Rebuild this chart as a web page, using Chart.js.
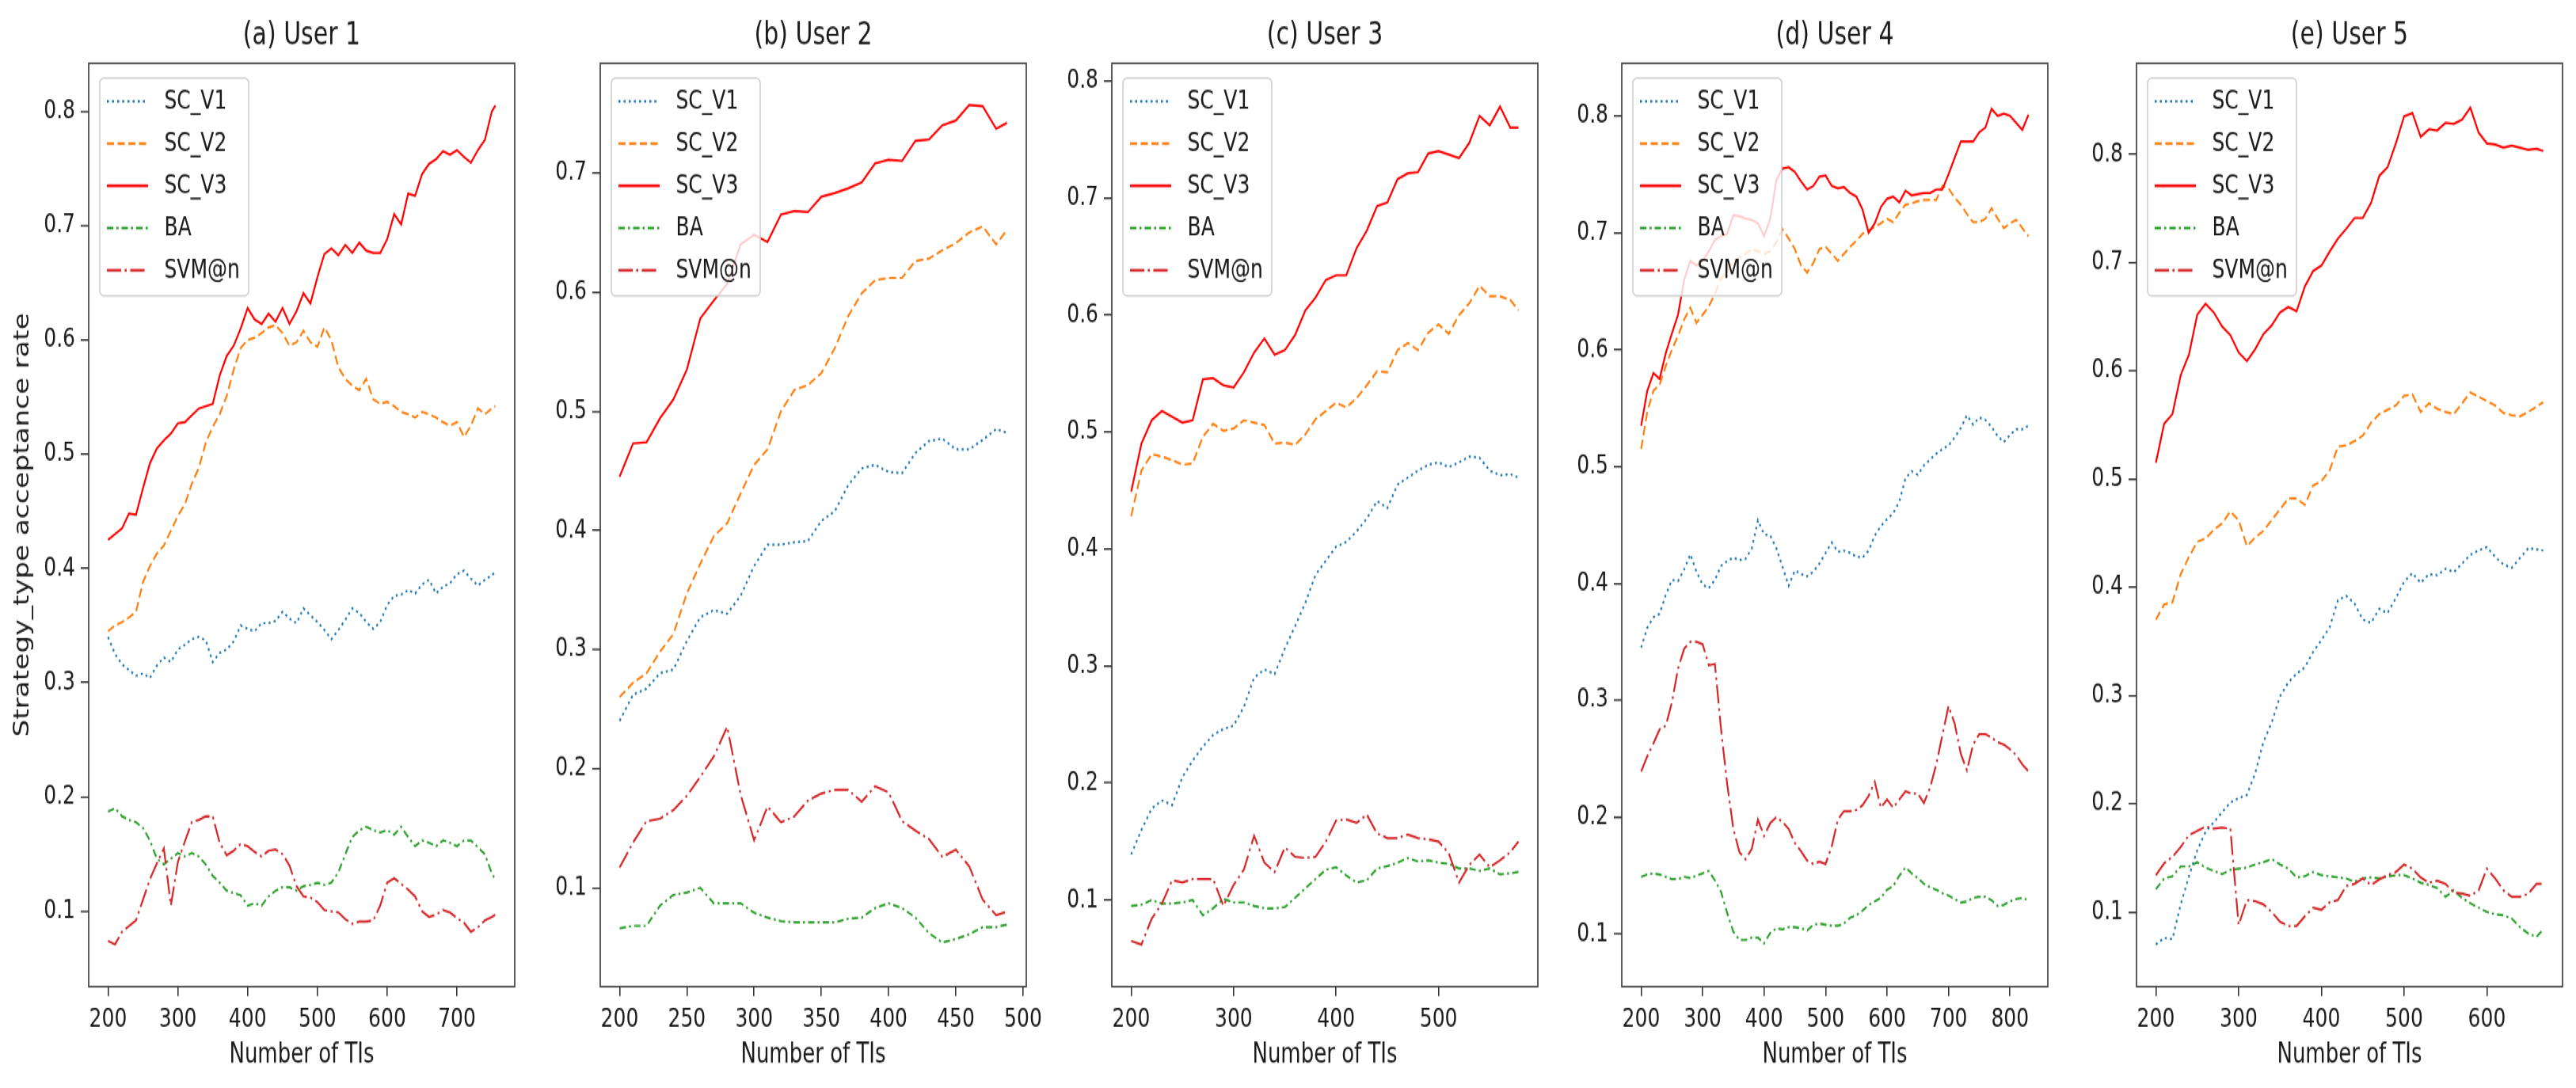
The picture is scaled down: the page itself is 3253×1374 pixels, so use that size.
<!DOCTYPE html>
<html>
<head>
<meta charset="utf-8">
<title>Strategy_type acceptance rate</title>
<script src="https://cdn.jsdelivr.net/npm/chart.js@4.4.1/dist/chart.umd.min.js"></script>
<style>
  html, body { margin: 0; padding: 0; background: #fff; }
  #page { position: relative; width: 3253px; height: 1374px; overflow: hidden; }
  #stage { position: absolute; left: 0; top: 0; width: 3253px; height: 1030px; transform: scaleY(1.33398); transform-origin: 0 0; }
  #stage canvas { position: absolute; top: 0; }
</style>
</head>
<body>
<div id="page"><div id="stage"></div></div>
<script>
// ---- data: Number of TIs (x) and acceptance rates per user ----
const xA = [200,210,220,230,240,250,260,270,280,290,300,310,320,330,340,350,360,370,380,390,400,410,420,430,440,450,460,470,480,490,500,510,520,530,540,550,560,570,580,590,600,610,620,630,640,650,660,670,680,690,700,710,720,730,740,750,755];
const v1A = [0.340,0.325,0.316,0.311,0.306,0.308,0.304,0.315,0.322,0.318,
  0.329,0.333,0.338,0.340,0.337,0.318,0.326,0.329,0.336,0.350,
  0.347,0.345,0.352,0.352,0.354,0.362,0.356,0.352,0.365,0.359,
  0.353,0.346,0.338,0.346,0.355,0.365,0.361,0.353,0.347,0.353,
  0.368,0.376,0.377,0.381,0.378,0.386,0.390,0.378,0.384,0.387,
  0.395,0.398,0.391,0.385,0.390,0.394,0.397];
const v2A = [0.345,0.350,0.353,0.357,0.362,0.388,0.402,0.413,0.420,0.433,
  0.446,0.456,0.474,0.488,0.510,0.524,0.535,0.551,0.574,0.593,
  0.600,0.602,0.606,0.611,0.613,0.606,0.595,0.598,0.608,0.598,
  0.594,0.611,0.600,0.576,0.566,0.560,0.556,0.566,0.548,0.544,
  0.546,0.542,0.537,0.535,0.532,0.537,0.535,0.532,0.528,0.525,
  0.528,0.515,0.525,0.540,0.535,0.540,0.542];
const v3A = [0.425,0.430,0.435,0.448,0.447,0.470,0.492,0.505,0.512,0.518,
  0.527,0.528,0.534,0.540,0.542,0.544,0.569,0.586,0.595,0.610,
  0.628,0.618,0.614,0.623,0.616,0.628,0.614,0.625,0.641,0.632,
  0.655,0.675,0.680,0.674,0.683,0.676,0.685,0.678,0.676,0.676,
  0.688,0.710,0.701,0.728,0.726,0.745,0.754,0.758,0.765,0.762,
  0.766,0.760,0.755,0.766,0.775,0.800,0.805];
const baA = [0.187,0.190,0.183,0.180,0.178,0.173,0.162,0.146,0.141,0.146,
  0.151,0.148,0.151,0.148,0.141,0.131,0.125,0.118,0.116,0.114,
  0.105,0.107,0.105,0.113,0.118,0.121,0.121,0.118,0.122,0.123,
  0.125,0.123,0.125,0.134,0.150,0.165,0.171,0.174,0.171,0.169,
  0.171,0.167,0.174,0.165,0.157,0.162,0.160,0.157,0.162,0.160,
  0.157,0.162,0.162,0.156,0.150,0.133,0.128];
const svmA = [0.074,0.071,0.082,0.087,0.092,0.110,0.128,0.142,0.155,0.105,
  0.143,0.161,0.178,0.180,0.183,0.183,0.160,0.149,0.153,0.159,
  0.157,0.152,0.148,0.153,0.154,0.150,0.140,0.122,0.113,0.112,
  0.108,0.101,0.100,0.099,0.093,0.089,0.091,0.091,0.092,0.105,
  0.125,0.129,0.124,0.119,0.113,0.100,0.095,0.097,0.101,0.099,
  0.094,0.090,0.082,0.086,0.092,0.095,0.097];

const xB = [200,210,220,230,240,250,260,270,280,290,300,310,320,330,340,350,360,370,380,390,400,410,420,430,440,450,460,470,480,488];
const v1B = [0.240,0.262,0.267,0.280,0.283,0.307,0.327,0.333,0.330,0.345,
  0.370,0.388,0.388,0.390,0.391,0.408,0.416,0.438,0.452,0.455,
  0.449,0.448,0.465,0.475,0.477,0.468,0.468,0.476,0.485,0.482];
const v2B = [0.260,0.272,0.280,0.298,0.313,0.347,0.372,0.395,0.406,0.431,
  0.455,0.468,0.500,0.518,0.522,0.532,0.553,0.580,0.599,0.610,
  0.612,0.612,0.626,0.628,0.635,0.641,0.650,0.655,0.640,0.652];
const v3B = [0.445,0.473,0.474,0.494,0.510,0.535,0.578,0.593,0.607,0.640,
  0.648,0.642,0.665,0.668,0.667,0.680,0.683,0.687,0.692,0.708,
  0.711,0.710,0.727,0.728,0.740,0.744,0.757,0.756,0.737,0.742];
const baB = [0.066,0.068,0.068,0.085,0.094,0.096,0.100,0.087,0.087,0.087,
  0.079,0.075,0.072,0.071,0.071,0.071,0.071,0.074,0.075,0.083,
  0.087,0.083,0.075,0.062,0.054,0.057,0.061,0.067,0.067,0.069];
const svmB = [0.117,0.138,0.156,0.158,0.165,0.177,0.193,0.210,0.235,0.178,
  0.140,0.168,0.155,0.160,0.173,0.179,0.182,0.182,0.172,0.185,
  0.180,0.156,0.148,0.141,0.126,0.132,0.118,0.090,0.077,0.080];

const xC = [200,210,220,230,240,250,260,270,280,290,300,310,320,330,340,350,360,370,380,390,400,410,420,430,440,450,460,470,480,490,500,510,520,530,540,550,560,570,578];
const v1C = [0.139,0.160,0.178,0.185,0.181,0.205,0.219,0.231,0.241,0.246,
  0.249,0.265,0.290,0.297,0.293,0.315,0.334,0.354,0.378,0.390,
  0.402,0.406,0.415,0.426,0.441,0.435,0.455,0.461,0.467,0.472,
  0.474,0.470,0.474,0.479,0.478,0.467,0.463,0.464,0.461];
const v2C = [0.428,0.467,0.481,0.479,0.476,0.472,0.473,0.496,0.507,0.501,
  0.503,0.510,0.508,0.506,0.490,0.491,0.489,0.498,0.511,0.518,
  0.525,0.521,0.529,0.540,0.552,0.551,0.570,0.576,0.570,0.585,
  0.592,0.584,0.600,0.610,0.625,0.616,0.616,0.613,0.604];
const v3C = [0.449,0.490,0.510,0.518,0.513,0.508,0.510,0.545,0.546,0.540,
  0.538,0.551,0.568,0.580,0.566,0.570,0.583,0.604,0.615,0.630,
  0.634,0.634,0.657,0.672,0.693,0.696,0.716,0.721,0.722,0.738,
  0.740,0.737,0.734,0.747,0.770,0.762,0.778,0.760,0.760];
const baC = [0.095,0.096,0.100,0.097,0.097,0.098,0.100,0.087,0.093,0.101,
  0.098,0.098,0.095,0.093,0.093,0.094,0.102,0.110,0.118,0.126,
  0.128,0.121,0.115,0.117,0.127,0.129,0.132,0.136,0.133,0.134,
  0.132,0.131,0.127,0.127,0.125,0.127,0.122,0.123,0.124];
const svmC = [0.065,0.062,0.084,0.097,0.117,0.115,0.118,0.118,0.118,0.095,
  0.113,0.126,0.155,0.132,0.124,0.145,0.137,0.136,0.137,0.150,
  0.168,0.169,0.166,0.173,0.157,0.153,0.153,0.156,0.153,0.152,
  0.150,0.140,0.115,0.130,0.139,0.128,0.134,0.141,0.150];

const xD = [200,210,220,230,240,250,260,270,280,290,300,310,320,330,340,350,360,370,380,390,400,410,420,430,440,450,460,470,480,490,500,510,520,530,540,550,560,570,580,590,600,610,620,630,640,650,660,670,680,690,700,710,720,730,740,750,760,770,780,790,800,810,820,830];
const v1D = [0.345,0.362,0.371,0.374,0.390,0.403,0.402,0.412,0.425,0.410,
  0.399,0.396,0.403,0.415,0.419,0.422,0.420,0.421,0.430,0.454,
  0.442,0.441,0.430,0.414,0.398,0.411,0.408,0.406,0.410,0.417,
  0.426,0.435,0.427,0.428,0.426,0.423,0.422,0.428,0.441,0.449,
  0.455,0.460,0.470,0.490,0.496,0.493,0.501,0.506,0.511,0.515,
  0.518,0.525,0.533,0.544,0.536,0.542,0.540,0.534,0.526,0.521,
  0.527,0.532,0.532,0.535];
const v2D = [0.515,0.547,0.565,0.570,0.586,0.600,0.612,0.626,0.636,0.623,
  0.630,0.637,0.648,0.661,0.668,0.675,0.679,0.682,0.686,0.684,
  0.682,0.684,0.692,0.703,0.695,0.686,0.672,0.666,0.674,0.686,
  0.688,0.682,0.676,0.682,0.688,0.693,0.699,0.702,0.705,0.708,
  0.712,0.709,0.717,0.724,0.725,0.727,0.728,0.728,0.728,0.740,
  0.738,0.730,0.724,0.716,0.709,0.709,0.712,0.721,0.712,0.704,
  0.708,0.711,0.704,0.697];
const v3D = [0.535,0.565,0.580,0.575,0.597,0.614,0.630,0.660,0.676,0.672,
  0.676,0.684,0.694,0.697,0.699,0.715,0.714,0.712,0.711,0.708,
  0.697,0.712,0.745,0.755,0.756,0.752,0.744,0.737,0.740,0.748,
  0.749,0.740,0.738,0.739,0.734,0.731,0.720,0.700,0.708,0.722,
  0.729,0.731,0.726,0.736,0.732,0.733,0.734,0.734,0.737,0.737,
  0.750,0.764,0.778,0.778,0.778,0.786,0.790,0.806,0.800,0.802,
  0.800,0.794,0.788,0.801];
const baD = [0.149,0.151,0.152,0.151,0.149,0.147,0.147,0.149,0.148,0.150,
  0.152,0.154,0.146,0.136,0.118,0.102,0.095,0.095,0.097,0.097,
  0.092,0.101,0.105,0.104,0.106,0.106,0.105,0.103,0.108,0.109,
  0.108,0.107,0.107,0.109,0.114,0.116,0.120,0.125,0.128,0.131,
  0.138,0.141,0.150,0.157,0.152,0.148,0.143,0.140,0.138,0.135,
  0.133,0.130,0.127,0.128,0.131,0.132,0.132,0.129,0.124,0.125,
  0.128,0.130,0.131,0.129];
const svmD = [0.239,0.252,0.263,0.275,0.278,0.298,0.327,0.344,0.350,0.350,
  0.348,0.330,0.331,0.275,0.228,0.190,0.170,0.164,0.173,0.198,
  0.184,0.195,0.200,0.196,0.190,0.178,0.171,0.163,0.160,0.162,
  0.160,0.175,0.198,0.205,0.205,0.206,0.210,0.218,0.230,0.208,
  0.215,0.208,0.215,0.222,0.220,0.220,0.212,0.225,0.245,0.270,
  0.295,0.280,0.254,0.240,0.262,0.271,0.271,0.268,0.264,0.262,
  0.258,0.253,0.245,0.239];

const xE = [200,210,220,230,240,250,260,270,280,290,300,310,320,330,340,350,360,370,380,390,400,410,420,430,440,450,460,470,480,490,500,510,520,530,540,550,560,570,580,590,600,610,620,630,640,650,660,668];
const v1E = [0.070,0.076,0.075,0.107,0.133,0.157,0.174,0.183,0.192,0.201,
  0.205,0.208,0.228,0.257,0.275,0.299,0.312,0.320,0.326,0.340,
  0.351,0.363,0.388,0.392,0.385,0.370,0.367,0.380,0.376,0.390,
  0.405,0.413,0.404,0.412,0.411,0.417,0.414,0.422,0.430,0.434,
  0.437,0.428,0.421,0.418,0.427,0.436,0.435,0.434];
const v2E = [0.370,0.384,0.386,0.412,0.428,0.442,0.445,0.453,0.459,0.470,
  0.462,0.438,0.446,0.452,0.462,0.472,0.482,0.482,0.476,0.494,
  0.498,0.508,0.530,0.531,0.535,0.540,0.552,0.560,0.564,0.568,
  0.577,0.578,0.562,0.570,0.565,0.562,0.560,0.570,0.580,0.576,
  0.572,0.568,0.561,0.559,0.558,0.562,0.567,0.571];
const v3E = [0.515,0.551,0.560,0.596,0.615,0.652,0.662,0.654,0.641,0.633,
  0.617,0.609,0.620,0.634,0.642,0.654,0.659,0.655,0.678,0.692,
  0.697,0.710,0.722,0.731,0.741,0.741,0.755,0.780,0.788,0.810,
  0.835,0.838,0.816,0.823,0.822,0.829,0.828,0.832,0.843,0.820,
  0.810,0.809,0.806,0.808,0.806,0.804,0.805,0.803];
const baE = [0.121,0.131,0.133,0.142,0.142,0.146,0.141,0.138,0.135,0.139,
  0.140,0.141,0.144,0.146,0.149,0.144,0.140,0.132,0.133,0.137,
  0.134,0.133,0.132,0.131,0.128,0.131,0.132,0.131,0.133,0.134,
  0.134,0.131,0.127,0.125,0.122,0.114,0.120,0.113,0.108,0.104,
  0.100,0.098,0.097,0.094,0.086,0.080,0.077,0.084];
const svmE = [0.134,0.145,0.151,0.160,0.171,0.175,0.179,0.177,0.178,0.177,
  0.088,0.111,0.110,0.107,0.100,0.091,0.087,0.087,0.096,0.104,
  0.102,0.109,0.111,0.124,0.126,0.131,0.125,0.130,0.134,0.137,
  0.144,0.140,0.132,0.127,0.129,0.126,0.118,0.117,0.115,0.120,
  0.140,0.131,0.120,0.114,0.114,0.117,0.126,0.126];

// tick labels
const xTicksA = [200,300,400,500,600,700];
const xTicksB = [200,250,300,350,400,450,500];
const xTicksC = [200,300,400,500];
const xTicksD = [200,300,400,500,600,700,800];
const xTicksE = [200,300,400,500,600];
const yTicks8 = [0.1,0.2,0.3,0.4,0.5,0.6,0.7,0.8];
const yTicks7 = [0.1,0.2,0.3,0.4,0.5,0.6,0.7];

const seriesNames = ['SC_V1', 'SC_V2', 'SC_V3', 'BA', 'SVM@n'];
const seriesColors = ['#1f77b4', '#ff7f0e', '#ff0000', '#2ca02c', '#d62728'];
const seriesDashes = [[2.5, 4], [9, 4.5], [], [8, 4, 2.5, 4], [18, 4.5, 2.5, 4.5]];

const panels = [
  { title: '(a) User 1', x: xA, ys: [v1A, v2A, v3A, baA, svmA], xTicks: xTicksA, yTicks: yTicks8, xMin: 172.25, xMax: 782.75, yMin: 0.034, yMax: 0.842, left: 112 },
  { title: '(b) User 2', x: xB, ys: [v1B, v2B, v3B, baB, svmB], xTicks: xTicksB, yTicks: yTicks7, xMin: 185.6, xMax: 502.4, yMin: 0.017, yMax: 0.792, left: 758 },
  { title: '(c) User 3', x: xC, ys: [v1C, v2C, v3C, baC, svmC], xTicks: xTicksC, yTicks: yTicks8, xMin: 181.1, xMax: 596.9, yMin: 0.026, yMax: 0.815, left: 1404 },
  { title: '(d) User 4', x: xD, ys: [v1D, v2D, v3D, baD, svmD], xTicks: xTicksD, yTicks: yTicks8, xMin: 168.5, xMax: 861.5, yMin: 0.055, yMax: 0.845, left: 2048 },
  { title: '(e) User 5', x: xE, ys: [v1E, v2E, v3E, baE, svmE], xTicks: xTicksE, yTicks: yTicks8, xMin: 176.6, xMax: 691.4, yMin: 0.031, yMax: 0.884, left: 2698 },
];

// ---- layout (canvas units, before the vertical stretch) ----
const CANVAS_H = 1030;
const BOX_BOTTOM = 934;
const BOX_W = 538;
const TEXT = '#1a1a1a';
const AXIS = '#333333';

Chart.defaults.font.family = 'DejaVu Sans';
Chart.defaults.color = TEXT;

// small line samples for the legend (matplotlib style handles)
const samples = seriesColors.map((color, k) => {
  const c = document.createElement('canvas');
  c.width = 52; c.height = 6;
  const g = c.getContext('2d');
  g.strokeStyle = color;
  g.lineWidth = 2.4;
  g.setLineDash(seriesDashes[k]);
  g.beginPath();
  g.moveTo(0, 3);
  g.lineTo(52, 3);
  g.stroke();
  return c;
});

// axes frame + legend box drawn over the lines, then legend re-drawn on top
const framePlugin = {
  id: 'frame',
  afterDatasetsDraw(chart) {
    const { ctx, chartArea: a } = chart;
    ctx.save();
    ctx.strokeStyle = AXIS;
    ctx.lineWidth = 1.6;
    ctx.strokeRect(a.left, a.top, a.right - a.left, a.bottom - a.top);
    ctx.beginPath();
    ctx.roundRect(a.left + 14, a.top + 14, 188, 206, 5);
    ctx.fillStyle = 'rgba(255,255,255,0.8)';
    ctx.fill();
    ctx.strokeStyle = '#cccccc';
    ctx.lineWidth = 1.5;
    ctx.stroke();
    ctx.restore();
    chart.legend.draw();
  }
};

const stage = document.getElementById('stage');

panels.forEach((p, i) => {
  const yAxisW = i === 0 ? 112 : 95;
  const canvas = document.createElement('canvas');
  canvas.width = yAxisW + BOX_W + 30;
  canvas.height = CANVAS_H;
  canvas.style.left = (p.left - yAxisW) + 'px';
  stage.appendChild(canvas);

  new Chart(canvas, {
    type: 'line',
    data: {
      datasets: seriesNames.map((name, k) => ({
        label: name,
        data: p.x.map((x, j) => ({ x: x, y: p.ys[k][j] })),
        borderColor: seriesColors[k],
        backgroundColor: seriesColors[k],
        borderWidth: 2.2,
        borderDash: seriesDashes[k],
        pointRadius: 0,
        tension: 0,
        fill: false,
        order: 4 - k,
      })),
    },
    options: {
      responsive: false,
      animation: false,
      devicePixelRatio: 1,
      events: [],
      layout: { padding: { left: 0, right: 30, top: 0, bottom: 0 } },
      scales: {
        x: {
          type: 'linear',
          min: p.xMin,
          max: p.xMax,
          afterBuildTicks: (s) => { s.ticks = p.xTicks.map((v) => ({ value: v })); },
          afterFit: (s) => { s.height = CANVAS_H - BOX_BOTTOM; },
          ticks: { autoSkip: false, maxRotation: 0, padding: 7, color: TEXT, font: { size: 25 }, callback: (v) => String(v) },
          grid: { drawOnChartArea: false, drawTicks: true, tickLength: 9, color: AXIS, lineWidth: 1.6 },
          border: { display: false },
          title: { display: true, text: 'Number of TIs', color: TEXT, font: { size: 26 }, padding: { top: 0, bottom: 15 } },
        },
        y: {
          type: 'linear',
          min: p.yMin,
          max: p.yMax,
          afterBuildTicks: (s) => { s.ticks = p.yTicks.map((v) => ({ value: v })); },
          afterFit: (s) => { s.width = yAxisW; },
          ticks: { autoSkip: false, padding: 7, color: TEXT, font: { size: 25 }, callback: (v) => v.toFixed(1) },
          grid: { drawOnChartArea: false, drawTicks: true, tickLength: 10, color: AXIS, lineWidth: 1.6 },
          border: { display: false },
          title: { display: i === 0, text: 'Strategy_type acceptance rate', color: TEXT, font: { size: 26 }, padding: { top: 14, bottom: 0 } },
        },
      },
      plugins: {
        title: { display: true, text: p.title, fullSize: false, color: TEXT, font: { size: 30, weight: 'normal' }, padding: { top: 16, bottom: 8 } },
        legend: {
          position: 'chartArea',
          align: 'start',
          // the chartArea legend starts at the canvas top; an empty title pushes items into the box
          title: { display: true, text: '', font: { size: 10, lineHeight: 1 }, padding: { top: 58.5, bottom: 0 } },
          labels: {
            usePointStyle: true,
            pointStyleWidth: 68,
            padding: 15,
            color: TEXT,
            font: { size: 25 },
            sort: (a, b) => a.datasetIndex - b.datasetIndex,
            generateLabels: (chart) => Chart.defaults.plugins.legend.labels.generateLabels(chart)
              .map((item) => ({ ...item, pointStyle: samples[item.datasetIndex], lineWidth: 0 })),
          },
        },
        tooltip: { enabled: false },
      },
    },
    plugins: [framePlugin],
  });
});
</script>
</body>
</html>
